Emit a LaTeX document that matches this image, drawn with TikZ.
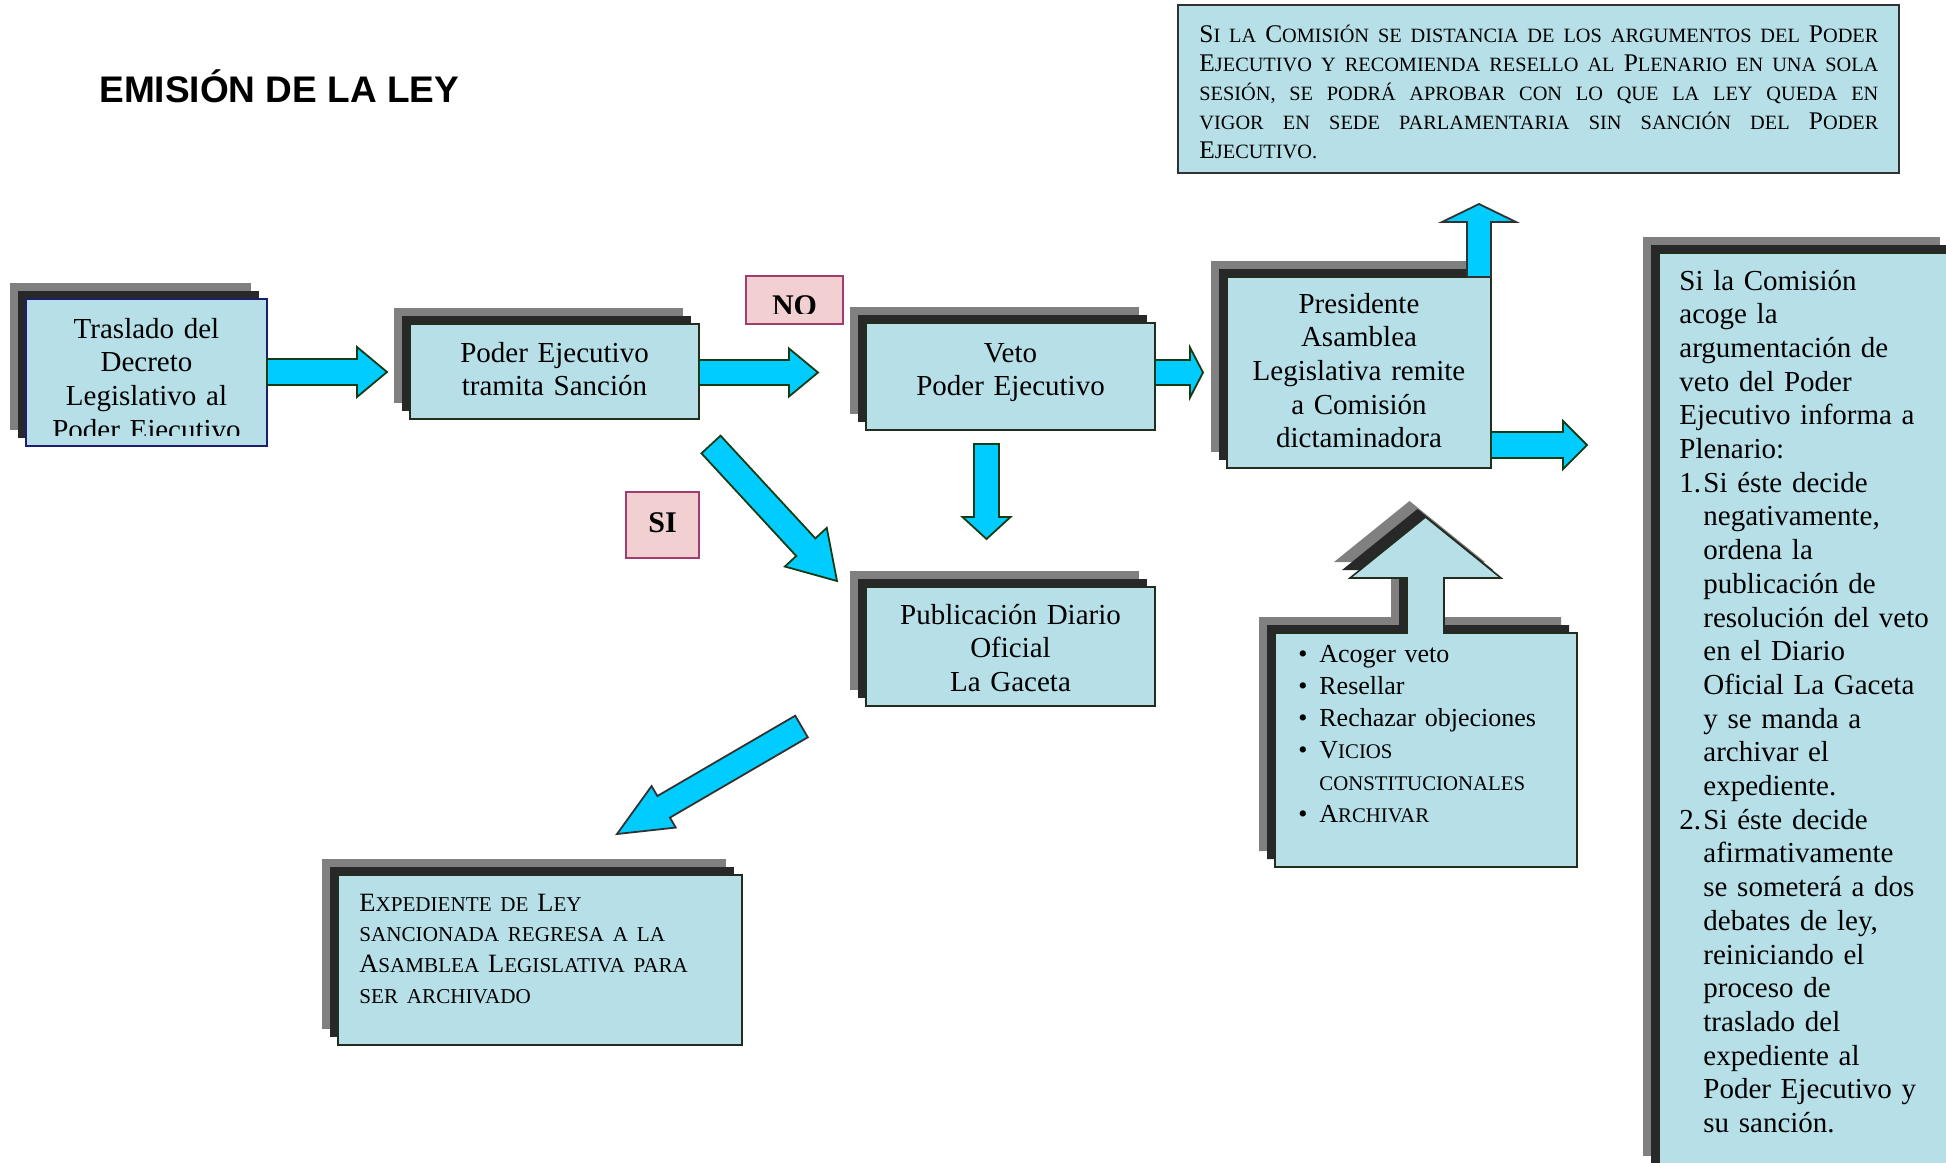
\documentclass[tikz,border=0pt]{standalone}
\usepackage{fontspec}
\setmainfont{Liberation Serif}
\newfontfamily\titlefont{Liberation Sans}
\newfontfamily\scf[Scale=0.8]{Liberation Serif}
\usetikzlibrary{shadows,fit}
\definecolor{boxblue}{RGB}{182,223,232}
\definecolor{shgrey}{RGB}{128,128,128}
\definecolor{shblack}{RGB}{40,40,40}
\definecolor{boxline}{RGB}{35,45,30}
\definecolor{navyline}{RGB}{30,30,110}
\definecolor{arrowcyan}{RGB}{0,204,255}
\definecolor{arrowline}{RGB}{20,60,20}
\definecolor{greyline}{RGB}{50,50,50}
\definecolor{pinkfill}{RGB}{242,208,210}
\definecolor{pinkline}{RGB}{160,60,110}
\newcommand\sm[1]{{\scf #1}}
\newcommand\bl[1]{\makebox[10.5pt][l]{•}#1}
\newcommand\nm[1]{\makebox[12pt][l]{#1}}
\newcommand\ind{\hspace*{12pt}}
\newcommand\jl[1]{\makebox[339.5pt][s]{\spaceskip=0pt\xspaceskip=0pt #1}}
\newcommand\barrow[8]{%
  \pgfmathsetmacro\baang{atan2(#5-#3,#4-#2)}%
  \pgfmathsetmacro\balen{veclen(#4-#2,#5-#3)}%
  \begin{scope}[shift={(#2,#3)},rotate=-\baang]
    \filldraw[#1] (0,-#6/2) -- ({\balen-#8},-#6/2) -- ({\balen-#8},-#7/2) -- (\balen,0)
      -- ({\balen-#8},#7/2) -- ({\balen-#8},#6/2) -- (0,#6/2) -- cycle;
  \end{scope}}
\tikzset{
  card/.style={fill=boxblue, draw=boxline, line width=0.8pt, inner sep=0pt,
    general shadow={fill=shgrey, shadow xshift=-8pt, shadow yshift=8pt},
    general shadow={fill=shblack, shadow xshift=-4pt, shadow yshift=4pt}},
  tag/.style={fill=pinkfill, draw=pinkline, line width=0.9pt, inner sep=0pt},
  txt/.style={inner sep=0pt, align=center, text width=#1, font=\fontsize{14.5pt}{16.85pt}\selectfont},
  txtl/.style={inner sep=0pt, align=left, text width=150pt, font=\fontsize{14.5pt}{16.85pt}\selectfont},
  bold/.style={inner sep=0pt, font=\fontsize{15pt}{17pt}\selectfont\bfseries},
  garrow/.style={fill=arrowcyan, draw=arrowline, line width=0.9pt, line join=miter},
  darrow/.style={fill=arrowcyan, draw=greyline, line width=0.9pt, line join=miter},
}
\begin{document}
\begin{tikzpicture}[x=0.5pt,y=-0.5pt]
\fill[white] (0,0) rectangle (1946,1162);
\useasboundingbox (0,0) rectangle (1946,1162);

% title
\node[anchor=base west, inner sep=0pt, font={\titlefont\bfseries\fontsize{18.5pt}{20pt}\selectfont}] (title) at (99,102) {EMISIÓN DE LA LEY};

% boxes
\node[card, draw=navyline, fit={(26,299) (267,446)}] (b1) {};
\begin{scope}
  \clip (26,299) rectangle (267,435);
  \node[txt=120pt, anchor=base] (t1) at (146.5,338) {Traslado del\\Decreto\\Legislativo al\\Poder Ejecutivo};
\end{scope}

\node[card, fit={(410,324) (699,419)}] (b2) {};
\node[txt=144pt, anchor=base] (t2) at (554.5,362) {Poder Ejecutivo\\tramita Sanción};

\node[card, fit={(866,323) (1155,430)}] (veto) {};
\node[txt=144pt, anchor=base] (tveto) at (1010.5,362) {Veto\\Poder Ejecutivo};

\node[card, fit={(1227,277) (1491,468)}] (pres) {};
\node[txt=132pt, anchor=base] (tpres) at (1359,313) {Presidente\\Asamblea\\Legislativa remite\\a Comisión\\dictaminadora};

\node[card, fit={(866,587) (1155,706)}] (pub) {};
\node[txt=144pt, anchor=base] (tpub) at (1010.5,624) {Publicación Diario\\Oficial\\La Gaceta};

\node[card, fit={(338,875) (742,1045)}] (exp) {};
\node[inner sep=0pt, align=left, text width=190pt, font=\fontsize{13.2pt}{15.35pt}\selectfont, anchor=base west] (texp) at (359,911)
  {E\sm{XPEDIENTE DE }L\sm{EY}\\\sm{SANCIONADA REGRESA A LA}\\A\sm{SAMBLEA }L\sm{EGISLATIVA PARA}\\\sm{SER ARCHIVADO}};

\node[card, fit={(1659,253) (1956,1172)}] (right) {};
\node[txtl, anchor=base west] (tright) at (1679,290)
  {Si la Comisión\\acoge la\\argumentación de\\veto del Poder\\Ejecutivo informa a\\Plenario:\\
   \nm{1.}Si éste decide\\\ind negativamente,\\\ind ordena la\\\ind publicación de\\\ind resolución del veto\\
   \ind en el Diario\\\ind Oficial La Gaceta\\\ind y se manda a\\\ind archivar el\\\ind expediente.\\
   \nm{2.}Si éste decide\\\ind afirmativamente\\\ind se someterá a dos\\\ind debates de ley,\\
   \ind reiniciando el\\\ind proceso de\\\ind traslado del\\\ind expediente al\\\ind Poder Ejecutivo y\\\ind su sanción.};

% top right note
\node[fill=boxblue, draw=greyline, line width=0.8pt, inner sep=0pt, fit={(1178,5) (1899,173)}] (note) {};
\node[inner sep=0pt, align=left, text width=339.5pt, font=\fontsize{12.7pt}{14.5pt}\selectfont, anchor=base west] (tnote) at (1199,42)
  {\jl{S\sm{I LA }C\sm{OMISIÓN SE DISTANCIA DE LOS ARGUMENTOS DEL }P\sm{ODER}}\\
   \jl{E\sm{JECUTIVO Y RECOMIENDA RESELLO AL }P\sm{LENARIO EN UNA SOLA}}\\
   \jl{\sm{SESIÓN, SE PODRÁ APROBAR CON LO QUE LA LEY QUEDA EN}}\\
   \jl{\sm{VIGOR EN SEDE PARLAMENTARIA SIN SANCIÓN DEL }P\sm{ODER}}\\
   E\sm{JECUTIVO.}};

% bullet box with arrow top
\newcommand\bulletpath{(1275,633) -- (1407,633) -- (1407,578) -- (1350,578) -- (1425.5,517) -- (1501,578) -- (1444,578) -- (1444,633) -- (1577,633) -- (1577,867) -- (1275,867) -- cycle}
\fill[shgrey, shift={(-16,-16)}] \bulletpath;
\fill[shblack, shift={(-8,-8)}] \bulletpath;
\filldraw[fill=boxblue, draw=boxline, line width=0.8pt] \bulletpath;
\node[inner sep=0pt, align=left, text width=150pt, font=\fontsize{13pt}{16pt}\selectfont, anchor=base west] (tbul) at (1298,662)
  {\bl{Acoger veto}\\\bl{Resellar}\\\bl{Rechazar objeciones}\\\bl{V\sm{ICIOS}}\\\hspace*{10.5pt}\sm{CONSTITUCIONALES}\\\bl{A\sm{RCHIVAR}}};

% tags
\node[tag, fit={(746,276) (843,324)}] (no) {};
\begin{scope}
  \clip (746,276) rectangle (843,313);
  \node[bold, anchor=base] (tno) at (794.5,315) {NO};
\end{scope}
\node[tag, fit={(626,492) (699,558)}] (si) {};
\node[bold, anchor=base] (tsi) at (662.5,532) {SI};

% block arrows
\barrow{garrow}{267}{372}{387}{372}{26}{50}{30}
\barrow{garrow}{699}{372.5}{818}{372.5}{25}{48}{29}
\barrow{garrow}{1155}{372.5}{1203}{372.5}{25}{50}{13}
\barrow{garrow}{1491}{445}{1587}{445}{26}{48}{24}
\barrow{darrow}{1479}{277}{1479}{204}{24}{74}{18}
\barrow{garrow}{986.5}{444}{986.5}{539}{25}{48}{22}
\barrow{garrow}{711}{444.5}{837}{581}{26}{57}{46}
\barrow{darrow}{801.5}{726.5}{617}{834}{25}{48}{54}
\end{tikzpicture}
\end{document}
